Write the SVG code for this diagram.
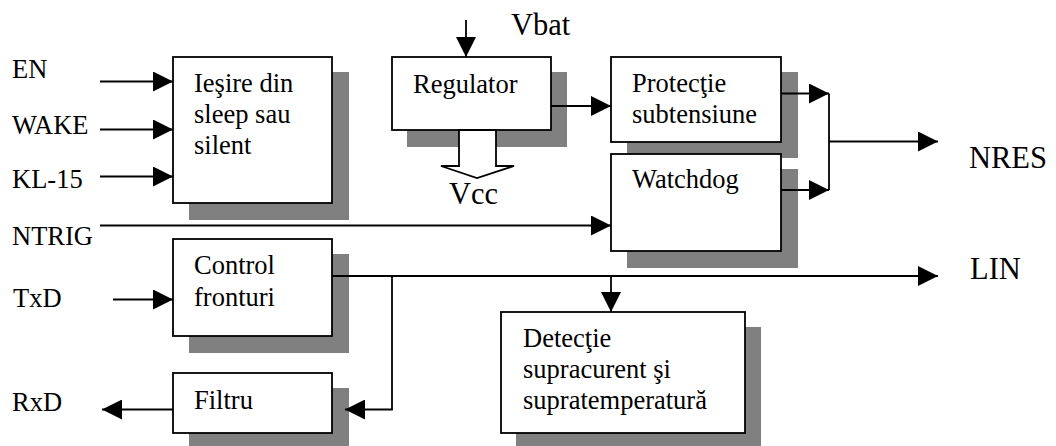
<svg xmlns="http://www.w3.org/2000/svg" width="1056" height="446" viewBox="0 0 1056 446">
<style>
text{font-family:"Liberation Serif","Times New Roman",serif;font-size:26.5px;fill:#000}
.big{font-size:30.5px}
.box{fill:#fff;stroke:#000;stroke-width:1.8}
.sh{fill:#808080;stroke:none}
.ln{fill:none;stroke:#000;stroke-width:1.8}
</style>
<defs>
<marker id="ah" markerUnits="userSpaceOnUse" markerWidth="20" markerHeight="20" refX="20" refY="10" orient="auto">
<path d="M0,0 L20,10 L0,20 z" fill="#000"/>
</marker>
</defs>
<rect width="1056" height="446" fill="#fff"/>

<g id="sleep">
<rect class="sh" x="189" y="72" width="160" height="148"/>
<rect class="box" x="173" y="57" width="159" height="146"/>
<text x="194" y="92">Ieşire din</text>
<text x="194" y="123">sleep sau</text>
<text x="194" y="154">silent</text>
</g>

<g id="regulator">
<rect class="sh" x="407" y="72" width="160" height="75"/>
<rect class="box" x="392" y="57" width="159" height="73"/>
<text x="413" y="93">Regulator</text>
</g>

<g id="protectie">
<rect class="sh" x="627" y="72" width="171" height="86"/>
<rect class="box" x="611" y="57" width="170" height="85"/>
<text x="632" y="92">Protecţie</text>
<text x="632" y="123">subtensiune</text>
</g>

<g id="watchdog">
<rect class="sh" x="627" y="169" width="171" height="99"/>
<rect class="box" x="611" y="154" width="170" height="97"/>
<text x="632" y="188">Watchdog</text>
</g>

<g id="control">
<rect class="sh" x="189" y="254" width="160" height="99"/>
<rect class="box" x="173" y="239" width="159" height="97"/>
<text x="194" y="274">Control</text>
<text x="194" y="306">fronturi</text>
</g>

<g id="filtru">
<rect class="sh" x="189" y="388" width="160" height="58"/>
<rect class="box" x="173" y="373" width="159" height="60"/>
<text x="194" y="409">Filtru</text>
</g>

<g id="detectie">
<rect class="sh" x="516" y="327" width="245" height="119"/>
<rect class="box" x="501" y="312" width="244" height="121"/>
<text x="523" y="347">Detecţie</text>
<text x="523" y="378">supracurent şi</text>
<text x="523" y="409">supratemperatură</text>
</g>

<g id="connectors">
<line class="ln" x1="100" y1="81.5" x2="173" y2="81.5" marker-end="url(#ah)"/>
<line class="ln" x1="100" y1="129.5" x2="173" y2="129.5" marker-end="url(#ah)"/>
<line class="ln" x1="100" y1="176.5" x2="173" y2="176.5" marker-end="url(#ah)"/>
<line class="ln" x1="100" y1="225.5" x2="611" y2="225.5" marker-end="url(#ah)"/>
<line class="ln" x1="113" y1="299.5" x2="173" y2="299.5" marker-end="url(#ah)"/>
<line class="ln" x1="173" y1="409.5" x2="102" y2="409.5" marker-end="url(#ah)"/>
<line class="ln" x1="466" y1="20" x2="466" y2="57" marker-end="url(#ah)"/>
<line class="ln" x1="551" y1="106" x2="611" y2="106" marker-end="url(#ah)"/>
<line class="ln" x1="781" y1="93.5" x2="829" y2="93.5" marker-end="url(#ah)"/>
<line class="ln" x1="781" y1="190" x2="829" y2="190" marker-end="url(#ah)"/>
<line class="ln" x1="829" y1="93.5" x2="829" y2="190"/>
<line class="ln" x1="829" y1="141.5" x2="938" y2="141.5" marker-end="url(#ah)"/>
<line class="ln" x1="332" y1="276" x2="938" y2="276" marker-end="url(#ah)"/>
<polyline class="ln" points="392,276 392,409.5 345,409.5" marker-end="url(#ah)"/>
<line class="ln" x1="611" y1="276" x2="611" y2="312" marker-end="url(#ah)"/>
<polygon class="box" points="459,130 459,166 441,166 477,178 514,166 496,166 496,130"/>
</g>

<g id="labels">
<text x="12" y="78">EN</text>
<text x="12" y="134">WAKE</text>
<text x="12" y="188">KL-15</text>
<text x="12" y="245">NTRIG</text>
<text x="13" y="307">TxD</text>
<text x="12" y="411">RxD</text>
<text class="big" x="511" y="35">Vbat</text>
<text class="big" x="449" y="204">Vcc</text>
<text class="big" x="969" y="168">NRES</text>
<text class="big" x="970" y="279">LIN</text>
</g>
</svg>
